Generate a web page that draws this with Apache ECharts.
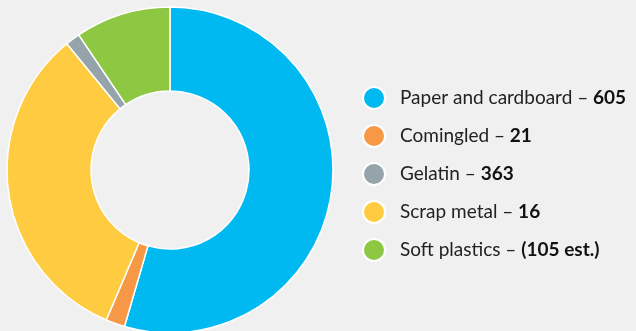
<!DOCTYPE html>
<html>
<head>
<meta charset="utf-8">
<script src="https://cdn.jsdelivr.net/npm/echarts@6/dist/echarts.min.js"></script>
<style>
  html, body { margin: 0; padding: 0; background: #f0f0f0; }
  #chart { width: 636px; height: 331px; }
</style>
</head>
<body>
<div id="chart"></div>
<script>
// slices in drawing order (clockwise from top)
const categories = ["Paper and cardboard", "Comingled", "Scrap metal", "Gelatin", "Soft plastics"];
const values = [605, 21, 363, 16, 105];
const colors = ["#00b9f0", "#f79846", "#ffcb40", "#95a3aa", "#8ec741"];

// legend order and the figures printed next to each name
const legendOrder = ["Paper and cardboard", "Comingled", "Gelatin", "Scrap metal", "Soft plastics"];
const legendFigures = ["605", "21", "363", "16", "(105 est.)"];

let chart = echarts.init(document.getElementById("chart"));

let pieData = categories.map(function (name, i) {
  return { name: name, value: values[i], itemStyle: { color: colors[i] } };
});

let option = {
  backgroundColor: "#f0f0f0",
  animation: false,
  legend: {
    orient: "vertical",
    left: 357,
    top: 81,
    icon: "circle",
    itemWidth: 22,
    itemHeight: 22,
    itemGap: 14,
    data: legendOrder,
    formatter: function (name) {
      let i = legendOrder.indexOf(name);
      return "{n|" + name + " – }{b|" + legendFigures[i] + "}";
    },
    textStyle: {
      padding: [0, 0, 0, 10],
      rich: {
        n: { fontFamily: "Lato", fontSize: 19, lineHeight: 22, color: "#222222" },
        b: { fontFamily: "Lato", fontSize: 19, lineHeight: 22, fontWeight: "bold", color: "#111111" }
      }
    }
  },
  series: [{
    type: "pie",
    center: [170, 170],
    radius: [79, 163],
    startAngle: 90,
    clockwise: true,
    label: { show: false },
    labelLine: { show: false },
    emphasis: { disabled: true },
    itemStyle: { borderColor: "#ffffff", borderWidth: 1.5 },
    data: pieData
  }]
};

option && chart.setOption(option);
</script>
</body>
</html>
